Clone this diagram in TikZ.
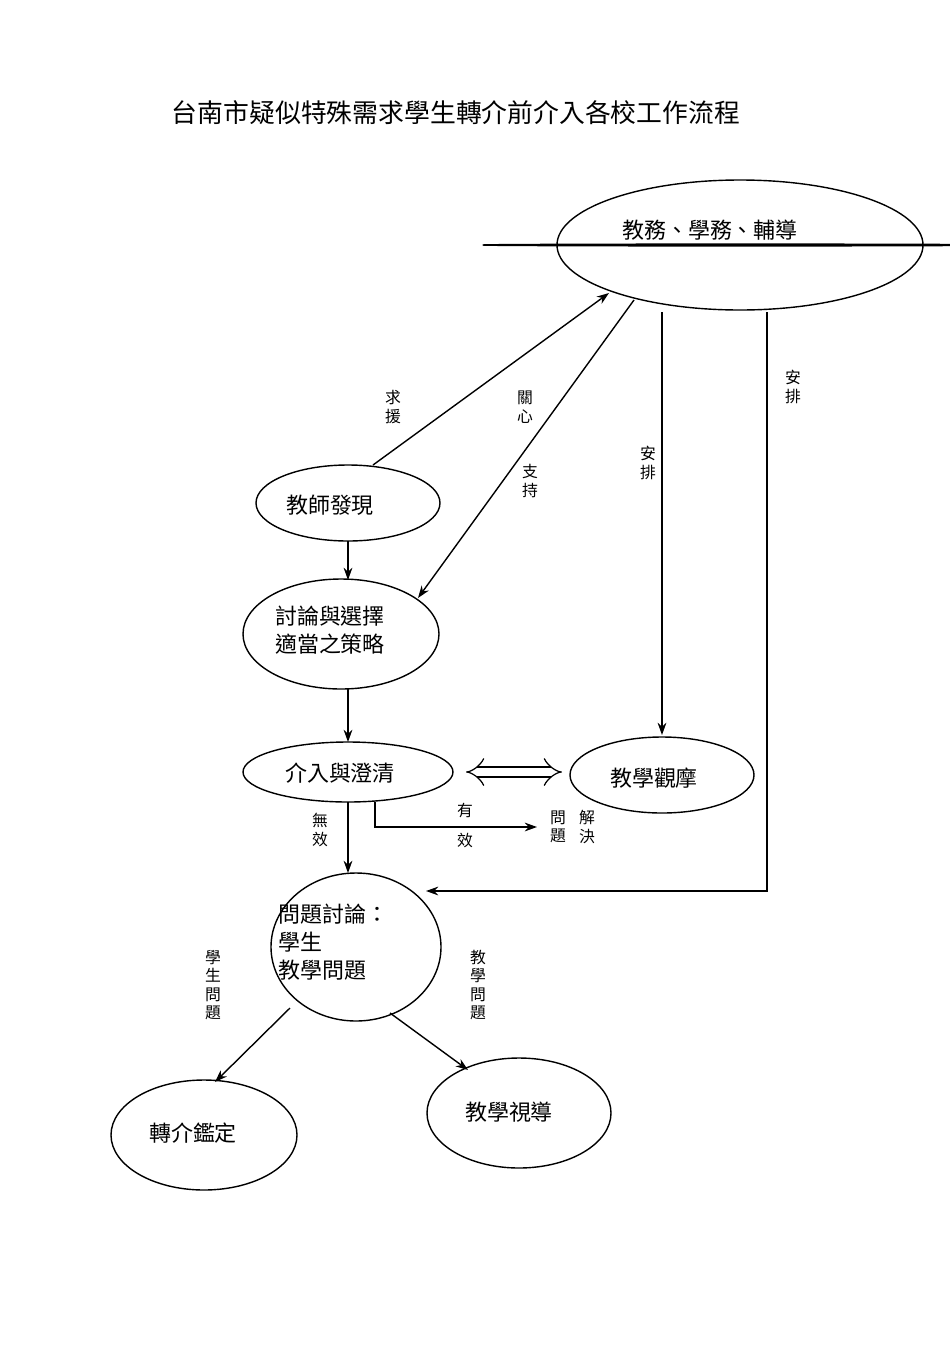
\documentclass[tikz,border=0pt]{standalone}
\usepackage{fontspec}
\setmainfont{Noto Sans CJK TC}
\usetikzlibrary{shapes.geometric,arrows.meta}
\begin{document}
\begin{tikzpicture}[x=0.02cm,y=-0.02cm,
  ell/.style={draw,line width=0.8pt,ellipse,inner sep=0pt},
  lab/.style={font=\fontsize{12.5pt}{16pt}\selectfont},
  vl/.style={font=\fontsize{9pt}{10.5pt}\selectfont,align=center,inner sep=0pt},
  ar/.style={line width=0.8pt,-{Stealth[length=7pt,width=5pt]}}]
\useasboundingbox (0,0) rectangle (950,1346);
\node[font=\fontsize{14.7pt}{18pt}\selectfont] (title) at (456,113) {台南市疑似特殊需求學生轉介前介入各校工作流程};
\node[ell,minimum width=366\pgflinewidth] (top) at (740,245) {};
\draw[line width=0.8pt] (740,245) ellipse [x radius=183, y radius=65];
\node[lab] (topt) at (710,230) {教務、學務、輔導};
\draw[line width=0.8pt] (348,503) ellipse [x radius=92, y radius=38];
\node[lab] (a) at (330,505) {教師發現};
\draw[line width=0.8pt] (341,634) ellipse [x radius=98, y radius=55];
\node[lab,align=left] (b) at (330,630) {討論與選擇\\適當之策略};
\draw[line width=0.8pt] (348,772) ellipse [x radius=105, y radius=30];
\node[lab] (c) at (340,773) {介入與澄清};
\draw[line width=0.8pt] (662,775) ellipse [x radius=92, y radius=38];
\node[lab] (d) at (654,778) {教學觀摩};
\draw[line width=0.8pt] (356,947) ellipse [x radius=85, y radius=74];
\node[lab,align=left,anchor=west] (e) at (272,942) {問題討論：\\學生\\教學問題};
\draw[line width=0.8pt] (204,1135) ellipse [x radius=93, y radius=55];
\node[lab] (f) at (193,1133) {轉介鑑定};
\draw[line width=0.8pt] (519,1113) ellipse [x radius=92, y radius=55];
\node[lab] (g) at (509,1112) {教學視導};
\coordinate (p1) at (373,465); \coordinate (q1) at (609,293);
\draw[ar] (p1) -- (q1);
\coordinate (p2) at (634,300); \coordinate (q2) at (418,598);
\draw[ar] (p2) -- (q2);
\coordinate (p3) at (662,312); \coordinate (q3) at (662,735);
\draw[ar] (p3) -- (q3);
\coordinate (p4) at (767,312); \coordinate (q4) at (426,891);
\draw[ar] (p4) |- (q4);
\coordinate (p5) at (348,541); \coordinate (q5) at (348,580);
\draw[ar] (p5) -- (q5);
\coordinate (p6) at (348,689); \coordinate (q6) at (348,742);
\draw[ar] (p6) -- (q6);
\coordinate (p7) at (466,772); \coordinate (q7) at (562,772);
\draw[double,double distance=5pt,line width=0.7pt,{Implies}-{Implies}] (p7) -- (q7);
\coordinate (p8) at (348,802); \coordinate (q8) at (348,873);
\draw[ar] (p8) -- (q8);
\coordinate (p9) at (375,802); \coordinate (q9) at (537,827);
\draw[ar] (p9) |- (q9);
\coordinate (p10) at (290,1008); \coordinate (q10) at (215,1082);
\draw[ar] (p10) -- (q10);
\coordinate (p11) at (390,1013); \coordinate (q11) at (468,1070);
\draw[ar] (p11) -- (q11);
\node[vl] (l1) at (393,407) {求\\援};
\node[vl] (l2) at (525,407) {關\\心};
\node[vl] (l3) at (530,481) {支\\持};
\node[vl] (l4) at (648,463) {安\\排};
\node[vl] (l5) at (793,387) {安\\排};
\node[vl] (l6) at (320,830) {無\\效};
\node[vl] (l7) at (465,811) {有};
\node[vl] (l8) at (465,840) {效};
\node[vl] (l9) at (558,827) {問\\題};
\node[vl] (l10) at (587,827) {解\\決};
\node[vl] (l11) at (213,985) {學\\生\\問\\題};
\node[vl] (l12) at (478,985) {教\\學\\問\\題};
\end{tikzpicture}
\end{document}
